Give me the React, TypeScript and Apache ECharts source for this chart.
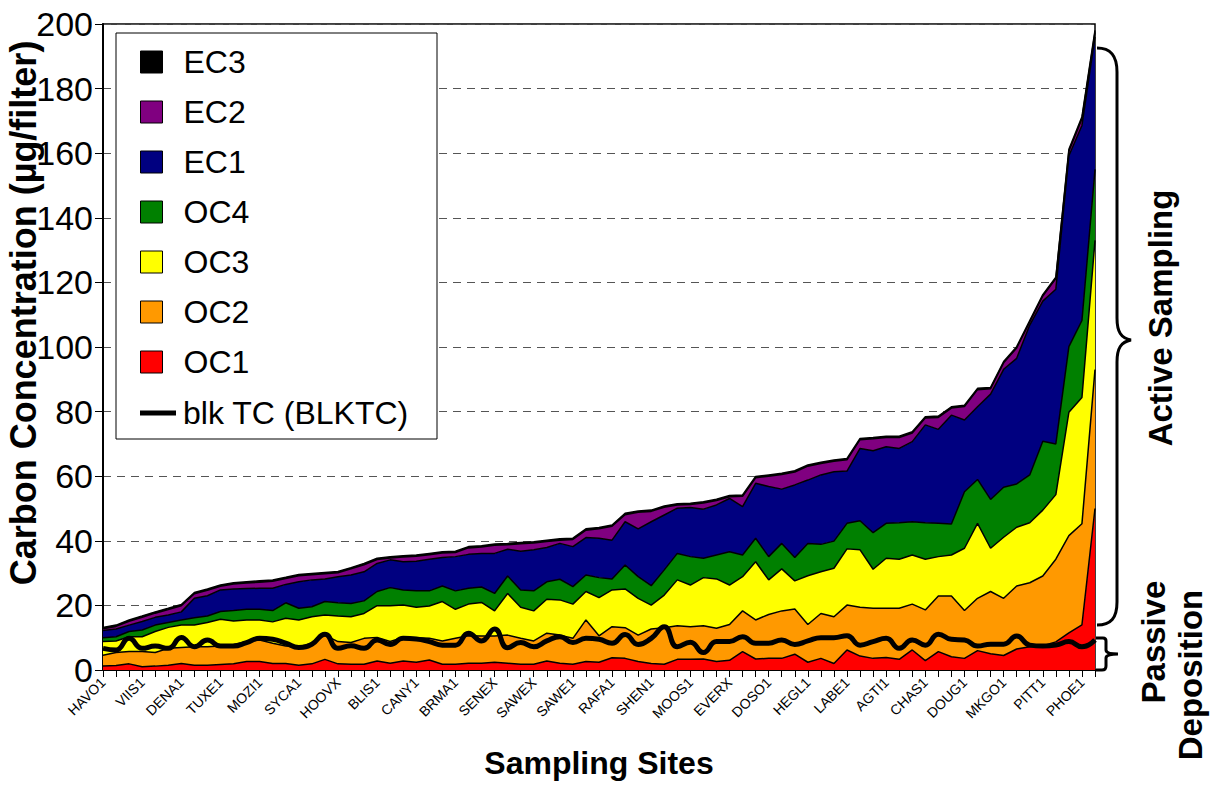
import React, { useEffect, useRef } from "react";
import * as echarts from "echarts";

const SITES = [
  "HAVO1", "", "", "VIIS1", "", "", "DENA1", "", "", "TUXE1", "", "", "MOZI1", "", "",
  "SYCA1", "", "", "HOOVX", "", "", "BLIS1", "", "", "CANY1", "", "", "BRMA1", "", "",
  "SENEX", "", "", "SAWEX", "", "", "SAWE1", "", "", "RAFA1", "", "", "SHEN1", "", "",
  "MOOS1", "", "", "EVERX", "", "", "DOSO1", "", "", "HEGL1", "", "", "LABE1", "", "",
  "AGTI1", "", "", "CHAS1", "", "", "DOUG1", "", "", "MKGO1", "", "", "PITT1", "", "",
  "PHOE1", "",
];

const OC1 = [
  1.2, 1.4, 1.9, 1.0, 1.2, 1.5, 2.0, 1.5, 1.5, 1.7, 1.9, 2.6, 2.6, 2.0, 2.0, 1.5, 1.9, 3.3, 1.9, 1.8,
  1.8, 2.8, 2.1, 2.8, 2.4, 3.1, 1.8, 1.8, 2.1, 2.1, 2.4, 2.1, 1.8, 1.8, 2.8, 2.1, 1.8, 2.6, 2.4, 3.8,
  3.6, 2.6, 2.0, 1.8, 3.3, 3.3, 3.4, 2.6, 3.0, 5.7, 3.4, 3.6, 3.6, 4.9, 2.4, 3.6, 2.0, 6.2, 4.3, 3.6,
  3.9, 3.3, 6.2, 2.9, 5.7, 4.1, 3.6, 6.0, 5.0, 4.5, 6.5, 7.2, 7.5, 8.7, 11.5, 14.0, 50.0,
];
const OC2 = [
  3.4, 4.0, 3.8, 4.7, 4.2, 5.2, 5.0, 5.7, 5.7, 5.7, 6.0, 6.2, 6.7, 6.3, 5.4, 5.7, 6.4, 7.5, 6.9, 6.7,
  8.0, 7.3, 6.7, 7.3, 7.6, 6.7, 7.2, 8.0, 8.5, 8.4, 8.1, 8.7, 8.0, 7.2, 8.6, 8.7, 8.0, 12.9, 8.2, 9.6,
  9.5, 8.2, 10.7, 11.3, 10.4, 10.1, 10.3, 10.3, 11.1, 12.6, 12.1, 13.6, 14.7, 14.0, 11.7, 13.9, 14.5, 13.9, 15.1, 15.5,
  15.2, 15.8, 14.2, 15.7, 17.2, 18.8, 14.8, 16.2, 19.3, 17.7, 19.5, 19.8, 21.6, 25.6, 30.1, 31.3, 43.0,
];
const OC3 = [
  4.2, 3.6, 4.6, 4.6, 6.5, 6.5, 6.9, 6.7, 7.5, 8.3, 7.3, 6.7, 6.2, 6.6, 8.6, 8.3, 8.2, 6.2, 7.9, 8.0,
  7.7, 9.8, 11.1, 10.0, 9.4, 10.0, 12.2, 9.0, 9.8, 10.4, 7.8, 12.9, 9.6, 9.3, 10.5, 10.9, 10.6, 8.8, 11.8, 11.4,
  12.0, 11.4, 7.4, 10.1, 14.2, 12.9, 14.9, 15.3, 12.2, 10.6, 18.0, 10.7, 13.0, 8.7, 15.1, 12.9, 15.0, 17.4, 17.8, 12.1,
  15.5, 15.2, 15.2, 15.7, 12.2, 12.7, 19.3, 23.2, 13.4, 18.9, 18.2, 18.6, 20.4, 20.0, 38.2, 39.1, 40.0,
];
const OC4 = [
  1.2, 1.3, 1.6, 2.1, 2.0, 1.5, 1.6, 2.3, 2.0, 2.4, 3.2, 3.3, 3.3, 3.5, 4.8, 3.6, 3.1, 4.2, 4.1, 4.1,
  3.9, 4.4, 5.6, 4.7, 5.1, 4.7, 4.8, 5.7, 4.9, 4.8, 5.4, 5.4, 5.4, 6.2, 5.4, 6.4, 5.4, 5.1, 6.2, 3.4,
  7.4, 6.7, 6.0, 7.8, 8.2, 8.8, 6.0, 7.4, 10.3, 6.7, 7.3, 7.2, 7.9, 7.2, 10.0, 8.5, 8.4, 7.9, 9.0, 11.3,
  10.8, 11.3, 10.3, 11.3, 10.3, 9.6, 17.5, 13.6, 15.1, 15.5, 13.4, 14.8, 21.3, 15.7, 20.3, 23.8, 22.0,
];
const EC1 = [
  2.2, 2.4, 2.0, 2.6, 2.4, 2.3, 2.5, 6.0, 6.3, 6.7, 6.7, 6.4, 6.5, 6.9, 5.7, 8.2, 8.3, 7.0, 8.1, 8.8,
  9.0, 8.7, 8.6, 8.7, 9.2, 9.8, 8.8, 10.6, 10.5, 10.4, 12.4, 8.3, 12.0, 12.7, 10.6, 11.1, 12.4, 11.6, 12.2, 12.0,
  13.4, 14.8, 19.8, 17.0, 14.0, 15.2, 15.2, 15.5, 16.5, 15.0, 17.0, 21.7, 16.8, 22.5, 19.6, 21.5, 21.5, 16.2, 22.4, 25.4,
  23.7, 23.0, 24.8, 30.3, 29.1, 33.7, 22.2, 22.5, 32.6, 36.5, 38.9, 46.4, 43.4, 47.9, 59.1, 60.4, 41.0,
];
const EC2 = [
  0.6, 0.8, 1.2, 1.3, 1.3, 1.7, 1.9, 1.4, 1.7, 1.1, 1.5, 1.7, 1.9, 2.2, 1.8, 1.9, 1.6, 1.6, 1.2, 1.9,
  2.2, 1.2, 0.6, 1.5, 1.5, 1.4, 1.4, 1.3, 2.0, 2.0, 2.5, 1.4, 2.3, 2.1, 1.9, 1.0, 2.2, 2.3, 2.9, 4.3,
  2.2, 5.1, 3.2, 2.4, 1.0, 0.9, 1.9, 1.4, 0.5, 3.2, 1.7, 3.2, 4.5, 4.0, 4.3, 3.5, 3.2, 3.5, 2.7, 3.7,
  2.9, 3.4, 2.7, 2.1, 3.7, 2.2, 4.2, 5.3, 1.7, 2.0, 3.2, 1.0, 1.6, 3.3, 1.4, 2.1, 1.4,
];
const EC3 = [
  0.4, 0.4, 0.4, 0.4, 0.4, 0.4, 0.4, 0.4, 0.4, 0.4, 0.4, 0.4, 0.4, 0.4, 0.4, 0.4, 0.4, 0.4, 0.4, 0.4,
  0.4, 0.4, 0.4, 0.4, 0.4, 0.4, 0.4, 0.4, 0.4, 0.4, 0.4, 0.4, 0.4, 0.4, 0.4, 0.4, 0.4, 0.4, 0.4, 0.4,
  0.4, 0.4, 0.4, 0.4, 0.4, 0.4, 0.4, 0.4, 0.4, 0.4, 0.4, 0.4, 0.4, 0.4, 0.4, 0.4, 0.4, 0.4, 0.4, 0.4,
  0.4, 0.4, 0.4, 0.4, 0.4, 0.4, 0.4, 0.4, 0.4, 0.4, 0.4, 0.4, 0.4, 0.4, 0.6, 0.6, 0.6,
];
const BLKTC = [
  6.7, 6.2, 9.8, 6.7, 7.4, 6.7, 10.1, 7.2, 9.3, 7.4, 7.4, 8.5, 9.8, 9.5, 8.3, 7.0, 8.0, 11.1, 6.7, 7.5,
  6.7, 9.3, 7.9, 9.8, 9.6, 8.8, 7.7, 7.7, 11.4, 9.0, 12.7, 6.9, 8.5, 7.2, 9.0, 10.3, 8.5, 9.8, 9.5, 8.3,
  11.0, 7.9, 9.8, 13.4, 7.2, 8.6, 5.4, 8.8, 8.8, 10.3, 8.3, 8.3, 9.3, 7.9, 9.0, 10.0, 10.0, 10.6, 7.7, 8.8,
  9.8, 6.7, 9.3, 7.7, 11.1, 9.5, 9.3, 7.4, 8.0, 8.0, 10.5, 7.7, 7.4, 7.7, 8.8, 7.2, 9.3,
];

const Y_TICKS = [0, 20, 40, 60, 80, 100, 120, 140, 160, 180, 200];

const AREA_NAMES = ["OC1", "OC2", "OC3", "OC4", "EC1", "EC2", "EC3"];
const AREA_DATA = [OC1, OC2, OC3, OC4, EC1, EC2, EC3];
const AREA_COLORS = ["#FF0000", "#FF9900", "#FFFF00", "#008000", "#000080", "#800080", "#000000"];
const LINE_NAME = "blk TC (BLKTC)";

const FONT = "'Liberation Sans', Arial, sans-serif";

export default function App() {
  const ref = useRef<HTMLDivElement>(null);

  useEffect(() => {
    const el = ref.current;
    if (!el) return;

    echarts.graphic.registerShape(
      "bigBrace",
      echarts.graphic.extendPath(
        "M1097,48 C1111,48 1117,56 1117,72 L1117,318 C1117,332 1121,338 1131,340 C1121,342 1117,348 1117,362 L1117,602 C1117,618 1111,625 1097,625",
        {}
      )
    );
    echarts.graphic.registerShape(
      "smallBrace",
      echarts.graphic.extendPath(
        "M1096,638 L1103,638 Q1106,638 1106,641 L1106,650 Q1106,654 1118,654 Q1106,654 1106,658 L1106,666 Q1106,670 1102,670 L1096,670",
        {}
      )
    );

    const chart = echarts.init(el, null, { renderer: "svg" });

    const areaSeries = AREA_NAMES.map((name, k) => ({
      name,
      type: "line",
      stack: "total",
      data: AREA_DATA[k],
      symbol: "none",
      showSymbol: false,
      lineStyle: { color: "#000", width: 1.5 },
      itemStyle: { color: AREA_COLORS[k] },
      areaStyle: { color: AREA_COLORS[k], opacity: 1 },
      emphasis: { disabled: true },
      z: 2,
    }));

    const legendAreaOrder = [6, 5, 4, 3, 2, 1, 0];

    const option: any = {
      animation: false,
      backgroundColor: "#fff",
      textStyle: { fontFamily: FONT },
      grid: {
        left: 103,
        right: 117,
        top: 24,
        bottom: 116,
        show: true,
        borderColor: "#000",
        borderWidth: 1.5,
        backgroundColor: "transparent",
        containLabel: false,
        outerBoundsMode: "none",
      },
      legend: [
        {
          orient: "vertical",
          left: 135,
          top: 41,
          itemWidth: 22,
          itemHeight: 22,
          itemGap: 18,
          selectedMode: false,
          data: legendAreaOrder.map((k) => ({
            name: AREA_NAMES[k],
            icon: "rect",
            itemStyle: { color: AREA_COLORS[k], borderColor: "#000", borderWidth: 1 },
          })),
          textStyle: { fontSize: 32, color: "#000", fontFamily: FONT, padding: [0, 0, 0, 16] },
        },
        {
          orient: "vertical",
          left: 135,
          top: 392,
          itemWidth: 36,
          itemHeight: 5,
          selectedMode: false,
          data: [{ name: LINE_NAME, icon: "rect", itemStyle: { color: "#000", borderWidth: 0 } }],
          textStyle: { fontSize: 32, color: "#000", fontFamily: FONT, padding: [0, 0, 0, 2] },
        },
      ],
      xAxis: {
        type: "category",
        data: SITES,
        boundaryGap: false,
        name: "Sampling Sites",
        nameLocation: "middle",
        nameGap: 77,
        nameMoveOverlap: false,
        nameTextStyle: { fontSize: 32, fontWeight: "bold", color: "#000", fontFamily: FONT },
        axisLine: { lineStyle: { color: "#000", width: 2 } },
        axisTick: { show: true, interval: 0, length: 7, lineStyle: { color: "#000", width: 1 } },
        axisLabel: { interval: 2, rotate: 45, fontSize: 14, color: "#000", margin: 10, fontFamily: FONT },
        splitLine: { show: false },
      },
      yAxis: {
        type: "value",
        min: Y_TICKS[0],
        max: Y_TICKS[Y_TICKS.length - 1],
        interval: Y_TICKS[1] - Y_TICKS[0],
        name: "Carbon Concentration (µg/filter)",
        nameLocation: "middle",
        nameGap: 62,
        nameMoveOverlap: false,
        nameTextStyle: {
          fontSize: 36,
          fontWeight: "bold",
          color: "#000",
          fontFamily: FONT,
          padding: [0, 0, 0, 68],
        },
        axisLine: { show: true, lineStyle: { color: "#000", width: 2 } },
        axisTick: { show: true, length: 8, lineStyle: { color: "#000", width: 1 } },
        axisLabel: { fontSize: 34, color: "#000", margin: 10, fontFamily: FONT },
        splitLine: { show: true, lineStyle: { color: "#555", type: [8, 6], width: 1 } },
      },
      graphic: [
        {
          type: "rect",
          z: 3,
          shape: { x: 116, y: 33, width: 321, height: 406 },
          style: { fill: "#fff", stroke: "#000", lineWidth: 1 },
        },
        { type: "bigBrace", x: 0, y: 0, z: 5, style: { fill: "none", stroke: "#000", lineWidth: 3 } },
        { type: "smallBrace", x: 0, y: 0, z: 5, style: { fill: "none", stroke: "#000", lineWidth: 3 } },
        {
          type: "text",
          x: 1160,
          y: 318,
          rotation: Math.PI / 2,
          z: 5,
          style: {
            text: "Active Sampling",
            fontSize: 33,
            fontWeight: "bold",
            fontFamily: FONT,
            fill: "#000",
            align: "center",
            verticalAlign: "middle",
          },
        },
        {
          type: "text",
          x: 1153,
          y: 642,
          rotation: Math.PI / 2,
          z: 5,
          style: {
            text: "Passive",
            fontSize: 33,
            fontWeight: "bold",
            fontFamily: FONT,
            fill: "#000",
            align: "center",
            verticalAlign: "middle",
          },
        },
        {
          type: "text",
          x: 1190,
          y: 675,
          rotation: Math.PI / 2,
          z: 5,
          style: {
            text: "Deposition",
            fontSize: 33,
            fontWeight: "bold",
            fontFamily: FONT,
            fill: "#000",
            align: "center",
            verticalAlign: "middle",
          },
        },
      ],
      series: [
        ...areaSeries,
        {
          name: LINE_NAME,
          type: "line",
          data: BLKTC,
          smooth: 0.5,
          symbol: "none",
          showSymbol: false,
          lineStyle: { color: "#000", width: 5 },
          itemStyle: { color: "#000" },
          emphasis: { disabled: true },
          z: 3,
        },
      ],
    };

    chart.setOption(option);
    return () => chart.dispose();
  }, []);

  return (
    <div
      ref={ref}
      style={{ position: "absolute", left: 0, top: 0, width: 1212, height: 786 }}
    />
  );
}
